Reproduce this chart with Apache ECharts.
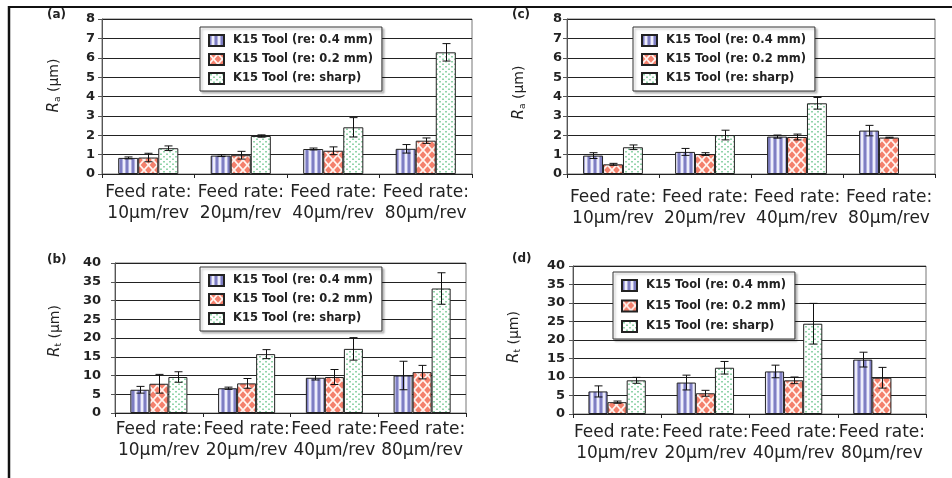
<!DOCTYPE html>
<html>
<head>
<meta charset="utf-8">
<script src="https://cdn.jsdelivr.net/npm/echarts@6/dist/echarts.min.js"></script>
<style>
html,body{margin:0;padding:0;background:#fff;}
#chart{width:952px;height:478px;}
</style>
</head>
<body>
<div id="chart"></div>
<script>
// ---------------- data ----------------
const categories = ['Feed rate:\n10µm/rev', 'Feed rate:\n20µm/rev', 'Feed rate:\n40µm/rev', 'Feed rate:\n80µm/rev'];
const seriesNames = ['K15 Tool (re: 0.4 mm)', 'K15 Tool (re: 0.2 mm)', 'K15 Tool (re: sharp)'];
const panelLabels = ['(a)', '(b)', '(c)', '(d)'];

const raTicks = [0, 8, 1];   // min, max, interval
const rtTicks = [0, 40, 5];

// (a) Ra, tool K15
const a_r04 = [0.83, 0.95, 1.29, 1.30];
const a_r04_err = [0.05, 0.05, 0.05, 0.22];
const a_r02 = [0.85, 0.97, 1.20, 1.72];
const a_r02_err = [0.22, 0.20, 0.20, 0.14];
const a_sharp = [1.33, 1.96, 2.41, 6.28];
const a_sharp_err = [0.12, 0.06, 0.50, 0.45];

// (b) Rt
const b_r04 = [6.2, 6.6, 9.4, 10.0];
const b_r04_err = [0.9, 0.3, 0.6, 3.8];
const b_r02 = [7.8, 7.9, 9.6, 10.9];
const b_r02_err = [2.5, 1.3, 2.0, 1.8];
const b_sharp = [9.6, 15.7, 17.1, 33.2];
const b_sharp_err = [1.4, 1.2, 3.0, 4.2];

// (c) Ra
const c_r04 = [0.95, 1.14, 1.93, 2.24];
const c_r04_err = [0.15, 0.18, 0.08, 0.27];
const c_r02 = [0.50, 1.03, 1.91, 1.88];
const c_r02_err = [0.05, 0.07, 0.15, 0.02];
const c_sharp = [1.38, 2.01, 3.65, null];
const c_sharp_err = [0.12, 0.25, 0.30, null];

// (d) Rt
const d_r04 = [6.1, 8.5, 11.5, 14.7];
const d_r04_err = [1.5, 2.0, 1.7, 2.0];
const d_r02 = [3.2, 5.6, 9.1, 9.8];
const d_r02_err = [0.3, 0.8, 0.9, 2.8];
const d_sharp = [9.1, 12.5, 24.4, null];
const d_sharp_err = [0.8, 1.7, 5.5, null];

// ---------------- patterns ----------------
function pattern(kind) {
  const c = document.createElement('canvas');
  let ctx;
  if (kind === 0) {
    c.width = 6; c.height = 6; ctx = c.getContext('2d');
    ctx.fillStyle = '#b0b0e0'; ctx.fillRect(0, 0, 6, 6);
    ctx.fillStyle = '#7e7ec2'; ctx.fillRect(0, 0, 2, 6);
    ctx.fillStyle = '#eeeefa'; ctx.fillRect(3, 0, 2, 6);
  } else if (kind === 1) {
    c.width = 9; c.height = 10; ctx = c.getContext('2d');
    ctx.fillStyle = '#f4806c'; ctx.fillRect(0, 0, 9, 10);
    ctx.strokeStyle = '#fff4f0'; ctx.lineWidth = 1.8;
    ctx.beginPath();
    ctx.moveTo(0, 0); ctx.lineTo(9, 10);
    ctx.moveTo(9, 0); ctx.lineTo(0, 10);
    ctx.stroke();
  } else {
    c.width = 6; c.height = 5; ctx = c.getContext('2d');
    ctx.fillStyle = '#ffffff'; ctx.fillRect(0, 0, 6, 5);
    ctx.fillStyle = '#92d4aa';
    ctx.fillRect(1, 1, 2, 1.5);
    ctx.fillRect(4, 3.5, 2, 1.5);
  }
  return { image: c, repeat: 'repeat' };
}
const fills = [pattern(0), pattern(1), pattern(2)];

// ---------------- layout ----------------
const panels = [
  { vals: [a_r04, a_r02, a_sharp], errs: [a_r04_err, a_r02_err, a_sharp_err], ticks: raTicks, sub: 'a',
    grid: { left: 102, right: 480, top: 19, bottom: 304 }, lblMargin: 7, nameGap: 40, namePad: 22, catMargin: 8,
    legend: { left: 200, top: 27 }, lab: [57, 17] },
  { vals: [b_r04, b_r02, b_sharp], errs: [b_r04_err, b_r02_err, b_sharp_err], ticks: rtTicks, sub: 't',
    grid: { left: 115, right: 486, top: 263, bottom: 65 }, lblMargin: 14, nameGap: 52, namePad: 14, catMargin: 6,
    legend: { left: 200, top: 267 }, lab: [57, 262] },
  { vals: [c_r04, c_r02, c_sharp], errs: [c_r04_err, c_r02_err, c_sharp_err], ticks: raTicks, sub: 'a',
    grid: { left: 567, right: 17, top: 19, bottom: 304 }, lblMargin: 5, nameGap: 40, namePad: 8, catMargin: 13,
    legend: { left: 633, top: 27 }, lab: [522, 17] },
  { vals: [d_r04, d_r02, d_sharp], errs: [d_r04_err, d_r02_err, d_sharp_err], ticks: rtTicks, sub: 't',
    grid: { left: 573, right: 26, top: 266, bottom: 64 }, lblMargin: 8, nameGap: 51, namePad: 6, catMargin: 8,
    legend: { left: 613, top: 272, gap: 7.5 }, lab: [522, 261] }
];

const FONT = 'DejaVu Sans';
const grids = [], xAxes = [], yAxes = [], series = [], legends = [], graphics = [];

function errRender(k) {
  return function (params, api) {
    const cat = api.value(0), v = api.value(1), e = api.value(2);
    if (v == null || isNaN(v)) return;
    const band = api.size([1, 0])[0];
    const bw = band * 0.65 / 3;
    const p = api.coord([cat, v]);
    const x = Math.round(p[0] + (k - 1) * bw) + 0.5;
    const top = api.coord([cat, v + e])[1];
    const bot = api.coord([cat, v - e])[1];
    const hw = 4;
    const st = { stroke: '#111', lineWidth: 1 };
    return {
      type: 'group',
      children: [
        { type: 'line', shape: { x1: x, y1: top, x2: x, y2: bot }, style: st },
        { type: 'line', shape: { x1: x - hw, y1: top, x2: x + hw, y2: top }, style: st },
        { type: 'line', shape: { x1: x - hw, y1: bot, x2: x + hw, y2: bot }, style: st }
      ]
    };
  };
}

panels.forEach((p, i) => {
  grids.push(Object.assign({ show: true, borderColor: '#777', borderWidth: 1, backgroundColor: 'transparent',
    containLabel: false, outerBoundsMode: 'none' }, p.grid));
  xAxes.push({
    type: 'category', gridIndex: i, data: categories,
    axisLine: { lineStyle: { color: '#222', width: 1 } },
    axisTick: { show: true, length: 4, lineStyle: { color: '#222' } },
    axisLabel: { interval: 0, margin: p.catMargin, fontFamily: FONT, fontSize: 17, lineHeight: 21, color: '#222' }
  });
  yAxes.push({
    type: 'value', gridIndex: i, min: p.ticks[0], max: p.ticks[1], interval: p.ticks[2],
    name: '{i|R}{s|' + p.sub + '} (µm)', nameLocation: 'middle', nameRotate: 90, nameGap: p.nameGap,
    nameTextStyle: {
      fontFamily: FONT, fontSize: 14, color: '#222', padding: [0, 0, 0, p.namePad],
      rich: {
        i: { fontFamily: FONT, fontStyle: 'italic', fontSize: 15, color: '#222', lineHeight: 16 },
        s: { fontFamily: FONT, fontSize: 9, color: '#222', lineHeight: 9, verticalAlign: 'bottom' }
      }
    },
    axisLine: { show: true, lineStyle: { color: '#555', width: 1 } },
    axisTick: { show: true, inside: false, length: 4, lineStyle: { color: '#555' } },
    axisLabel: { margin: p.lblMargin, fontFamily: FONT, fontWeight: 'bold', fontSize: 13, color: '#222' },
    splitLine: { show: true, lineStyle: { color: '#222', width: 1 } }
  });
  for (let k = 0; k < 3; k++) {
    series.push({
      type: 'bar', name: seriesNames[k], xAxisIndex: i, yAxisIndex: i,
      data: p.vals[k].map(v => (v == null ? '-' : v)),
      barGap: '0%', barCategoryGap: '35%',
      itemStyle: { color: fills[k], borderColor: '#222', borderWidth: 1 },
      emphasis: { disabled: true }, animation: false, z: 2
    });
  }
  for (let k = 0; k < 3; k++) {
    const d = [];
    p.vals[k].forEach((v, c) => { if (v != null) d.push([c, v, p.errs[k][c]]); });
    series.push({
      type: 'custom', name: 'err' + i + k, xAxisIndex: i, yAxisIndex: i,
      renderItem: errRender(k), data: d, encode: { x: 0, y: 1 }, z: 5,
      silent: true, animation: false
    });
  }
  legends.push({
    data: seriesNames, orient: 'vertical', left: p.legend.left, top: p.legend.top,
    backgroundColor: '#fff', borderColor: '#333', borderWidth: 1,
    padding: [7, 9, 6, 8], itemWidth: 15, itemHeight: 11, itemGap: p.legend.gap || 6,
    icon: 'rect', selectedMode: false,
    textStyle: { fontFamily: FONT, fontWeight: 'bold', fontSize: 11.5, color: '#222', padding: [0, 0, 0, 4], lineHeight: 12 },
    shadowColor: 'rgba(0,0,0,0.25)', shadowBlur: 2, shadowOffsetX: 2, shadowOffsetY: 2
  });
  graphics.push({
    type: 'text', left: p.lab[0] - 10, top: p.lab[1] - 8,
    style: { text: panelLabels[i], font: 'bold 12px "DejaVu Sans"', fill: '#222' }
  });
});

// frame lines
graphics.push({ type: 'line', shape: { x1: 8, y1: 7, x2: 952, y2: 7 }, style: { stroke: '#111', lineWidth: 2 } });
graphics.push({ type: 'line', shape: { x1: 9, y1: 6, x2: 9, y2: 478 }, style: { stroke: '#111', lineWidth: 2.5 } });

const chart = echarts.init(document.getElementById('chart'), null, { renderer: 'canvas' });
chart.setOption({
  backgroundColor: '#fff',
  animation: false,
  grid: grids, xAxis: xAxes, yAxis: yAxes, series: series, legend: legends,
  graphic: graphics
});
</script>
</body>
</html>
